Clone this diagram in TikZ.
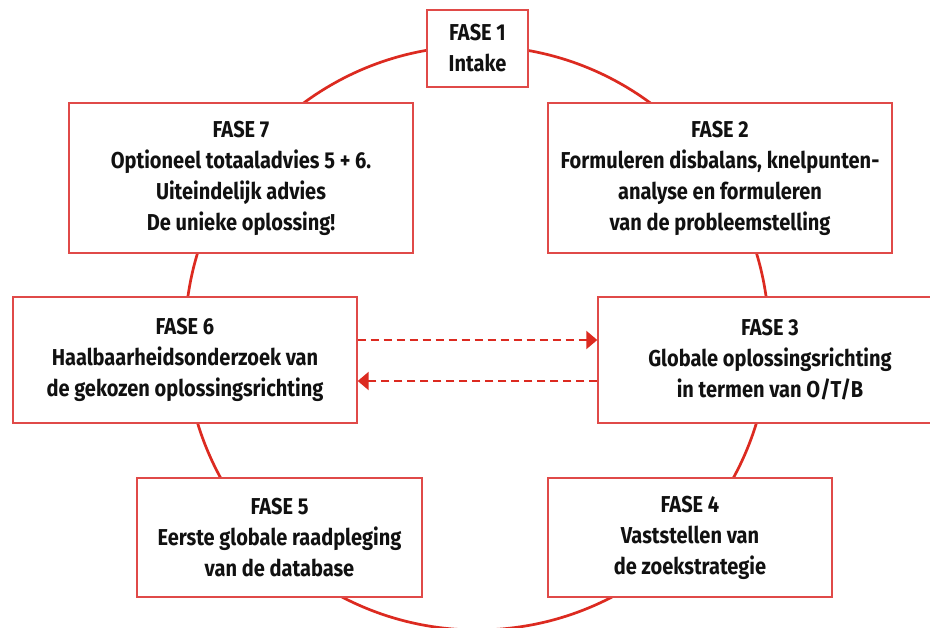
\documentclass[tikz,border=0pt]{standalone}
\usepackage{fontspec}
\setmainfont{Fira Sans}[FakeStretch=0.87]
\usetikzlibrary{arrows.meta}
\definecolor{ringred}{HTML}{DC2A20}
\definecolor{boxred}{HTML}{E04A48}
\definecolor{txt}{HTML}{111111}
\tikzset{
  fasebox/.style={draw=boxred, line width=1.4pt, fill=white, align=center,
    text=txt, font=\fontsize{23}{31}\selectfont\bfseries, inner sep=0pt},
  ring/.style={draw=ringred, line width=2.7pt},
  loopback/.style={draw=ringred, line width=2.2pt, dash pattern=on 8pt off 5pt,
    -{Triangle[length=11pt,width=18pt]}}
}
\begin{document}
\begin{tikzpicture}[x=1pt,y=-1pt]
\useasboundingbox (0,0) rectangle (930,628);
\clip (0,0) rectangle (930,628);
\fill[white] (0,0) rectangle (930,628);
\draw[ring] (477,338) circle[radius=292];
\node[fasebox, minimum width=101pt, minimum height=77pt] (f1) at (477.5,48.5) {FASE 1\\Intake};
\node[fasebox, minimum width=344pt, minimum height=150pt] (f2) at (720,178) {FASE 2\\Formuleren disbalans, knelpunten-\\analyse en formuleren\\van de probleemstelling};
\node[fasebox, minimum width=344pt, minimum height=150pt] (f7) at (241,178) {FASE 7\\Optioneel totaaladvies 5 + 6.\\Uiteindelijk advies\\De unieke oplossing!};
\node[fasebox, minimum width=344pt, minimum height=126pt] (f6) at (185,360) {FASE 6\\Haalbaarheidsonderzoek van\\de gekozen oplossingsrichting};
\node[fasebox, minimum width=344pt, minimum height=126pt] (f3) at (770,360) {FASE 3\\Globale oplossingsrichting\\in termen van O/T/B};
\node[fasebox, minimum width=285pt, minimum height=119pt] (f5) at (279.5,537.5) {FASE 5\\Eerste globale raadpleging\\van de database};
\node[fasebox, minimum width=284pt, minimum height=119pt] (f4) at (690,537.5) {FASE 4\\Vaststellen van\\de zoekstrategie};
\draw[loopback] ([yshift=20pt]f6.east) -- ([yshift=20pt]f3.west);
\draw[loopback] ([yshift=-21pt]f3.west) -- ([yshift=-21pt]f6.east);
\end{tikzpicture}
\end{document}
